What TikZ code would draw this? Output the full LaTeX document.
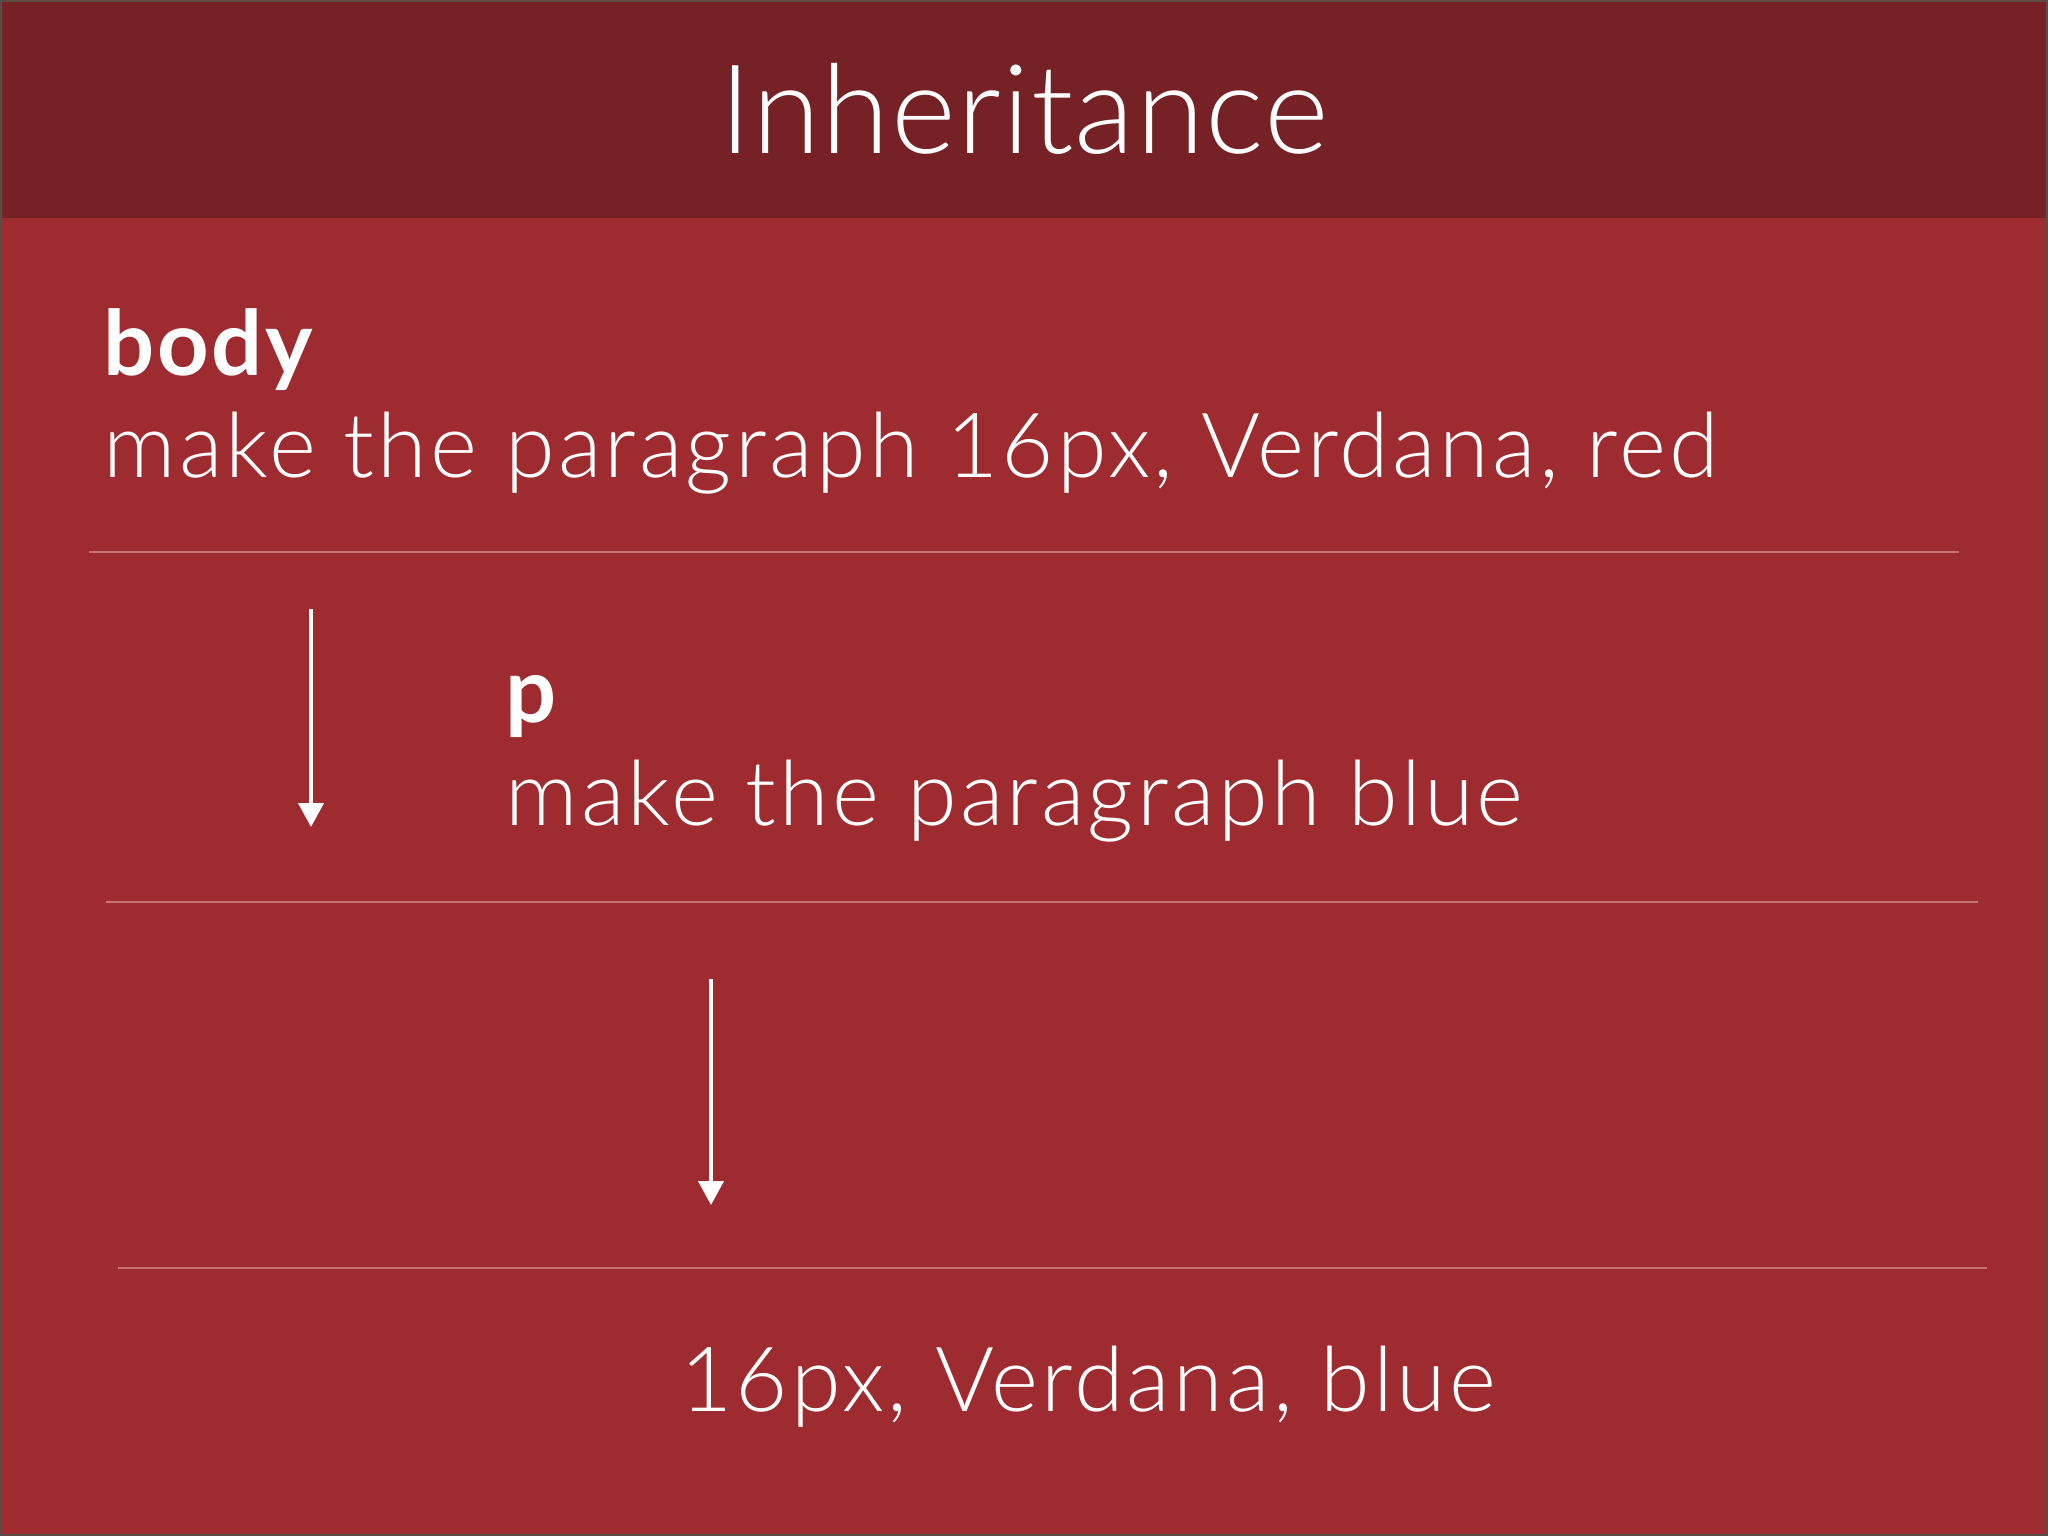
\documentclass[tikz,border=0pt]{standalone}
\usepackage{fontspec}
\setmainfont{Lato}[UprightFont={* Light},BoldFont={* Bold}]
\usetikzlibrary{arrows.meta}
\definecolor{titlered}{HTML}{762126}
\definecolor{bodyred}{HTML}{9E2B2F}
\definecolor{rulered}{HTML}{C87474}
\definecolor{edgegray}{HTML}{5B4B45}
\tikzset{
  rule/.style={rulered, line width=1.2pt},
  down/.style={-{Triangle[width=12.5pt,length=12pt]}, white, line width=2pt},
  txt/.style={anchor=base west, white, inner sep=0pt, font=\fontsize{45}{54}\selectfont\addfontfeatures{LetterSpace=3.6}},
  sel/.style={txt, font=\fontsize{45}{54}\selectfont\bfseries\addfontfeatures{LetterSpace=3}}
}
\begin{document}
\begin{tikzpicture}[x=0.5pt,y=-0.5pt]
	\useasboundingbox (0,0) rectangle (2048,1536);
	% фон
	\fill[bodyred] (0,0) rectangle (2048,1536);
	\fill[titlered] (0,0) rectangle (2048,218);
	\draw[edgegray, line width=1pt] (1,1) rectangle (2047,1535);
	% заголовок
	\node[anchor=base, white, inner sep=0pt, font=\fontsize{62}{74}\selectfont\addfontfeatures{LetterSpace=1}] (title) at (1024,154) {Inheritance};
	% правила
	\node[sel] (bodysel) at (103,375) {body};
	\node[txt] (bodyrule) at (103,477) {make the paragraph 16px, Verdana, red};
	\node[sel] (psel) at (505,722) {p};
	\node[txt] (prule) at (505,825) {make the paragraph blue};
	\node[txt] (result) at (680,1411) {16px, Verdana, blue};
	% линии
	\coordinate (r1a) at (89,552);  \coordinate (r1b) at (1959,552);
	\coordinate (r2a) at (106,902); \coordinate (r2b) at (1978,902);
	\coordinate (r3a) at (118,1268); \coordinate (r3b) at (1987,1268);
	\draw[rule] (r1a) -- (r1b);
	\draw[rule] (r2a) -- (r2b);
	\draw[rule] (r3a) -- (r3b);
	% стрелки
	\coordinate (a1top) at (311,609); \coordinate (a1tip) at (311,827);
	\coordinate (a2top) at (711,979); \coordinate (a2tip) at (711,1205);
	\draw[down] (a1top) -- (a1tip);
	\draw[down] (a2top) -- (a2tip);
\end{tikzpicture}
\end{document}
